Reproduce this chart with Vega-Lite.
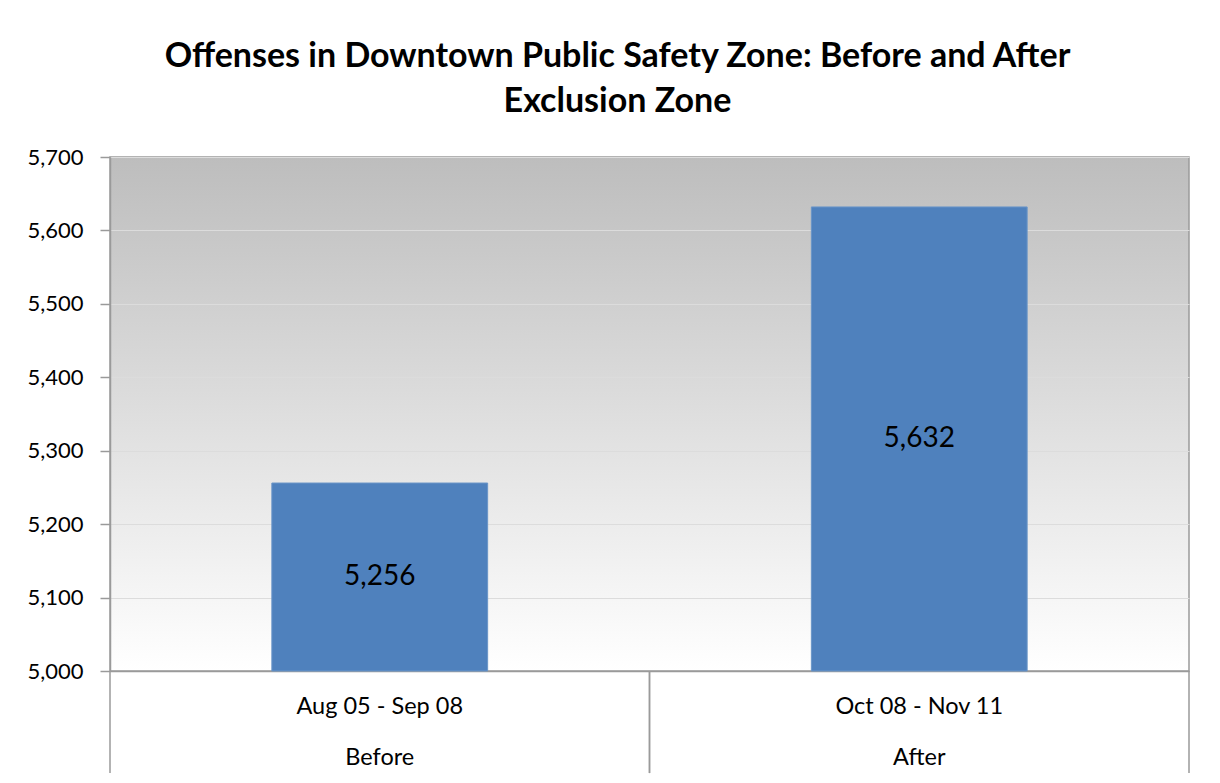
{
  "$schema": "https://vega.github.io/schema/vega-lite/v6.json",
  "width": 1079,
  "height": 514,
  "autosize": {"type": "none"},
  "padding": {"left": 110, "top": 157, "right": 31, "bottom": 112},
  "background": "white",
  "title": {
    "text": ["Offenses in Downtown Public Safety Zone: Before and After", "Exclusion Zone"],
    "font": "Lato",
    "fontSize": 34,
    "fontWeight": "bold",
    "color": "#000000",
    "anchor": "middle",
    "dx": -32,
    "offset": 27,
    "lineHeight": 45
  },
  "data": {
    "values": [
      {"period": "Aug 05 - Sep 08", "phase": "Before", "value": 5256},
      {"period": "Oct 08 - Nov 11", "phase": "After", "value": 5632}
    ]
  },
  "config": {
    "view": {
      "stroke": "#9a9a9a",
      "strokeWidth": 1.5,
      "fill": {"gradient": "linear", "x1": 0, "y1": 0, "x2": 0, "y2": 1, "stops": [{"offset": 0, "color": "#bdbdbd"}, {"offset": 1, "color": "#ffffff"}]}
    },
    "axis": {"labelFont": "Lato", "labelColor": "#000000"}
  },
  "layer": [
    {
      "mark": {"type": "bar", "color": "#4f81bd", "stroke": "#6a95c8", "strokeWidth": 1},
      "encoding": {
        "x": {
          "field": "period",
          "type": "nominal",
          "sort": null,
          "scale": {"paddingInner": 0.6, "paddingOuter": 0.3},
          "axis": {
            "title": null,
            "labelAngle": 0,
            "labelFontSize": 23.5,
            "labelExpr": "datum.label == 'Aug 05 - Sep 08' ? ['Aug 05 - Sep 08', 'Before'] : ['Oct 08 - Nov 11', 'After']",
            "labelLineHeight": 51,
            "labelBaseline": "top",
            "ticks": false,
            "domainColor": "#9a9a9a",
            "domainWidth": 1.5,
            "labelPadding": 23
          }
        },
        "y": {
          "field": "value",
          "type": "quantitative",
          "scale": {"domain": [5000, 5700], "zero": false, "nice": false},
          "axis": {
            "title": null,
            "values": [5000, 5100, 5200, 5300, 5400, 5500, 5600, 5700],
            "format": ",d",
            "labelFontSize": 22,
            "tickSize": 10,
            "tickColor": "#9a9a9a",
            "tickWidth": 1.5,
            "domainColor": "#9a9a9a",
            "domainWidth": 1.5,
            "gridColor": "#dcdcdc",
            "gridWidth": 1,
            "labelPadding": 17
          }
        },
        "y2": {"datum": 5000}
      }
    },
    {
      "mark": {"type": "rule", "color": "#9a9a9a", "strokeWidth": 1.5, "clip": false},
      "encoding": {
        "x": {"field": "period", "type": "nominal", "sort": null, "bandPosition": -0.75},
        "y": {"datum": 5000},
        "y2": {"datum": 4861}
      }
    },
    {
      "mark": {"type": "rule", "color": "#9a9a9a", "strokeWidth": 1.5, "clip": false},
      "encoding": {
        "x": {"field": "period", "type": "nominal", "sort": null, "bandPosition": 1.75},
        "y": {"datum": 5000},
        "y2": {"datum": 4861}
      }
    },
    {
      "transform": [{"calculate": "(datum.value + 5000) / 2", "as": "mid"}],
      "mark": {"type": "text", "font": "Lato", "fontSize": 28, "color": "#000000", "baseline": "middle"},
      "encoding": {
        "x": {"field": "period", "type": "nominal", "sort": null},
        "y": {"field": "mid", "type": "quantitative"},
        "text": {"field": "value", "type": "quantitative", "format": ",d"}
      }
    }
  ]
}
